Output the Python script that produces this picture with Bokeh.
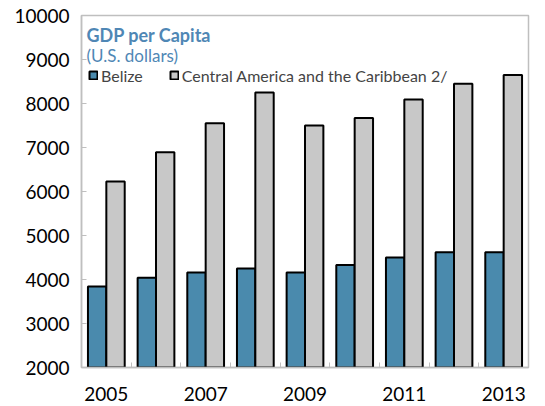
from bokeh.plotting import figure
from bokeh.models import ColumnDataSource, Range1d, FixedTicker, Legend, LegendItem, Label
from bokeh.transform import dodge
from bokeh.embed import file_html
from bokeh.resources import INLINE

# ---- data ----
years = [2005, 2006, 2007, 2008, 2009, 2010, 2011, 2012, 2013]
belize = [3840, 4040, 4160, 4250, 4160, 4330, 4500, 4620, 4620]
central_america = [6230, 6890, 7550, 8250, 7500, 7670, 8090, 8450, 8650]
x_tick_years = [2005, 2007, 2009, 2011, 2013]
y_ticks = [2000, 3000, 4000, 5000, 6000, 7000, 8000, 9000, 10000]
series_names = ["Belize", "Central America and the Caribbean 2/"]
title_text = "GDP per Capita"
subtitle_text = "(U.S. dollars)"

BLUE = "#4A8AAD"
GREY = "#C8C8C8"
FRAME = "#BFBFBF"
TITLE_BLUE = "#4F87B5"
FONT = "Lato"

src = ColumnDataSource(dict(year=years, belize=belize, ca=central_america))

p = figure(width=545, height=406,
           x_range=Range1d(years[0] - 0.5, years[-1] + 0.5),
           y_range=Range1d(y_ticks[0], y_ticks[-1]),
           output_backend="svg", toolbar_location=None,
           min_border_left=81, min_border_right=17,
           min_border_top=15, min_border_bottom=39)

r1 = p.vbar(x=dodge("year", -0.185, range=p.x_range), top="belize", bottom=y_ticks[0],
            width=0.37, source=src, fill_color=BLUE, line_color="black", line_width=2)
r2 = p.vbar(x=dodge("year", 0.185, range=p.x_range), top="ca", bottom=y_ticks[0],
            width=0.37, source=src, fill_color=GREY, line_color="black", line_width=2)

p.xgrid.visible = False
p.ygrid.visible = False
p.outline_line_color = FRAME
p.outline_line_width = 1.5
p.background_fill_color = "white"
p.border_fill_color = "white"

# y axis
p.yaxis.ticker = FixedTicker(ticks=y_ticks)
p.yaxis.axis_line_color = FRAME
p.yaxis.axis_line_width = 1.5
p.yaxis.major_tick_line_color = FRAME
p.yaxis.major_tick_in = 5
p.yaxis.major_tick_out = 0
p.yaxis.minor_tick_line_color = None
p.yaxis.major_label_standoff = 12
p.yaxis.major_label_text_font = FONT
p.yaxis.major_label_text_font_size = "19px"
p.yaxis.major_label_text_color = "black"

# x axis
p.xaxis.ticker = FixedTicker(ticks=x_tick_years,
                             minor_ticks=[y + 0.5 for y in years[:-1]])
p.xaxis.axis_line_color = FRAME
p.xaxis.axis_line_width = 1.5
p.xaxis.major_tick_line_color = None
p.xaxis.minor_tick_line_color = FRAME
p.xaxis.minor_tick_in = 5
p.xaxis.minor_tick_out = 0
p.xaxis.major_label_standoff = 13
p.xaxis.major_label_text_font = FONT
p.xaxis.major_label_text_font_size = "19px"
p.xaxis.major_label_text_color = "black"

# titles inside plot
p.add_layout(Label(x=years[0] - 0.5, y=9546, x_offset=5, text=title_text,
                   text_font=FONT, text_font_size="18px", text_font_style="bold",
                   text_color=TITLE_BLUE, text_baseline="middle"))
p.add_layout(Label(x=years[0] - 0.5, y=9091, x_offset=5, text=subtitle_text,
                   text_font=FONT, text_font_size="17px",
                   text_color=TITLE_BLUE, text_baseline="middle"))

legend = Legend(items=[LegendItem(label=series_names[0], renderers=[r1]),
                       LegendItem(label=series_names[1], renderers=[r2])],
                location=(7, 282), orientation="horizontal",
                padding=0, margin=0, spacing=26,
                glyph_width=10, glyph_height=10, label_standoff=3,
                label_text_font=FONT, label_text_font_size="16px",
                label_height=20,
                border_line_color=None, background_fill_alpha=0)
p.add_layout(legend)

open("out.html", "w").write(file_html(p, INLINE))
